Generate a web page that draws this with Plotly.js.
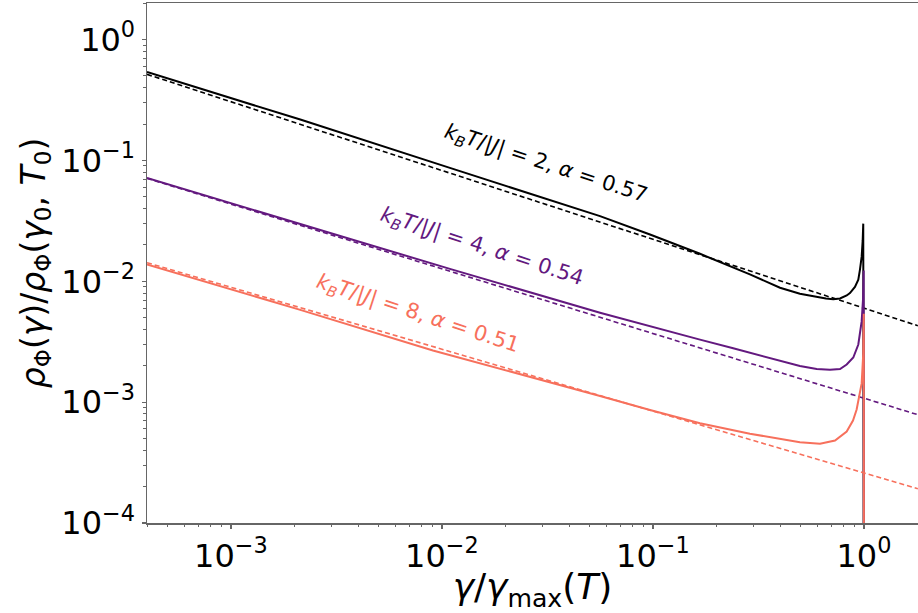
<!DOCTYPE html>
<html>
<head>
<meta charset="utf-8">
<script src="https://cdn.plot.ly/plotly-3.0.1.min.js"></script>
<style>html,body{margin:0;padding:0;background:#fff;}#chart{width:918px;height:613px;}</style>
</head>
<body>
<div id="chart"></div>
<script>
// ---- data ----
const xBlack = [4.0e-4, 2.13e-3, 1.09e-2, 0.0561, 0.0968, 0.167, 0.288, 0.400, 0.497, 0.535, 0.597, 0.660, 0.715, 0.770, 0.828, 0.858, 0.906, 0.940, 0.957, 0.975, 0.986, 0.992, 1.0];
const yBlack = [0.539, 0.218, 0.0868, 0.0346, 0.0244, 0.0169, 0.0114, 0.00885, 0.00789, 0.00770, 0.00738, 0.00720, 0.00712, 0.00722, 0.00764, 0.00800, 0.00900, 0.01030, 0.0125, 0.0160, 0.0218, 0.030, 1e-6];

const xPurple = [4.0e-4, 2.13e-3, 1.09e-2, 0.0561, 0.0968, 0.167, 0.240, 0.346, 0.400, 0.497, 0.597, 0.690, 0.770, 0.828, 0.890, 0.940, 0.975, 0.989, 0.9968, 1.0];
const yPurple = [0.0715, 0.0296, 0.01267, 0.00550, 0.00423, 0.00329, 0.00279, 0.00237, 0.00219, 0.00199, 0.00188, 0.00185, 0.00188, 0.00205, 0.00234, 0.00300, 0.00466, 0.00695, 0.0123, 1e-6];

const xSalmon = [4.0e-4, 2.13e-3, 0.00906, 0.02344, 0.0561, 0.0968, 0.167, 0.288, 0.400, 0.497, 0.619, 0.729, 0.828, 0.887, 0.923, 0.947, 0.975, 0.992, 0.9978, 1.0];
const ySalmon = [0.0138, 0.00580, 0.00268, 0.00171, 0.001125, 0.000861, 0.000670, 0.000548, 0.000496, 0.000466, 0.000453, 0.000482, 0.000572, 0.000705, 0.000870, 0.001074, 0.00143, 0.00253, 0.0054, 1e-6];

// power-law fits (dashed), endpoints
const xFit = [4.0e-4, 1.8];
const yFitBlack = [0.516, 0.00429];
const yFitPurple = [0.0711, 0.000787];
const yFitSalmon = [0.01426, 0.000192];

const labels = [
  {text: "<i>k</i><sub><i>B</i></sub><i>T</i>/|<i>J</i>| = 2, <i>α</i> = 0.57", x: 0.0311, y: 0.0940},
  {text: "<i>k</i><sub><i>B</i></sub><i>T</i>/|<i>J</i>| = 4, <i>α</i> = 0.54", x: 0.01548, y: 0.0193},
  {text: "<i>k</i><sub><i>B</i></sub><i>T</i>/|<i>J</i>| = 8, <i>α</i> = 0.51", x: 0.00769, y: 0.00540}
];
const xTickVals = [1e-3, 1e-2, 1e-1, 1];
const xTickText = ["10<sup>−3</sup>", "10<sup>−2</sup>", "10<sup>−1</sup>", "10<sup>0</sup>"];
const yTickVals = [1e-4, 1e-3, 1e-2, 1e-1, 1];
const yTickText = ["10<sup>−4</sup>", "10<sup>−3</sup>", "10<sup>−2</sup>", "10<sup>−1</sup>", "10<sup>0</sup>"];
const minorDigits = [2, 3, 4, 5, 6, 7, 8, 9];
const xDecades = [1e-4, 1e-3, 1e-2, 1e-1, 1];
const yDecades = [1e-4, 1e-3, 1e-2, 1e-1, 1];

// ---- styles ----
const cBlack = "#000000", cPurple = "#63197f", cSalmon = "#f7705c";
const FONT = "DejaVu Sans";

function solid(x, y, c){ return {x, y, mode: "lines", line: {color: c, width: 2}, hoverinfo: "skip", showlegend: false}; }
function dashed(x, y, c){ return {x, y, mode: "lines", line: {color: c, width: 1.6, dash: "5px,3px"}, hoverinfo: "skip", showlegend: false}; }

const traces = [
  solid(xBlack, yBlack, cBlack),
  dashed(xFit, yFitBlack, cBlack),
  solid(xPurple, yPurple, cPurple),
  dashed(xFit, yFitPurple, cPurple),
  solid(xSalmon, ySalmon, cSalmon),
  dashed(xFit, yFitSalmon, cSalmon)
];

const labelColors = [cBlack, cPurple, cSalmon];
const annotations = labels.map((l, i) => ({
  x: Math.log10(l.x), y: Math.log10(l.y), xref: "x", yref: "y",
  text: l.text, showarrow: false, textangle: 18,
  font: {family: FONT, size: 21, color: labelColors[i]}
}));

function minorVals(decades){
  const out = [];
  decades.forEach(d => minorDigits.forEach(m => out.push(d * m)));
  return out;
}

const axisCommon = {
  type: "log", showgrid: false, zeroline: false,
  showline: true, linecolor: "#666", linewidth: 1.5,
  ticks: "outside", ticklen: 4, tickwidth: 1.2, tickcolor: "#666",
  tickfont: {family: FONT, size: 32, color: "#000"}
};

const layout = {
  width: 918, height: 613,
  margin: {l: 147, r: 0, t: 3, b: 90},
  paper_bgcolor: "#fff", plot_bgcolor: "#fff",
  showlegend: false,
  xaxis: Object.assign({}, axisCommon, {
    range: [-3.398, 0.256], tickvals: xTickVals, ticktext: xTickText, mirror: true,
    minor: {tickmode: "array", tickvals: minorVals(xDecades), ticks: "outside", ticklen: 2.5, tickwidth: 1, tickcolor: "#666", showgrid: false},
    title: {text: "<i>γ</i>/<i>γ</i><sub>max</sub>(<i>T</i>)", font: {family: FONT, size: 36, color: "#000"}, standoff: 4}
  }),
  yaxis: Object.assign({}, axisCommon, {
    range: [-4, 0.303], tickvals: yTickVals, ticktext: yTickText,
    minor: {tickmode: "array", tickvals: minorVals(yDecades), ticks: "outside", ticklen: 2.5, tickwidth: 1, tickcolor: "#666", showgrid: false},
    title: {text: "<i>ρ</i><sub>Φ</sub>(<i>γ</i>)/<i>ρ</i><sub>Φ</sub>(<i>γ</i><sub>0</sub>, <i>T</i><sub>0</sub>)", font: {family: FONT, size: 33, color: "#000"}, standoff: 6}
  }),
  annotations: annotations
};

Plotly.newPlot("chart", traces, layout, {staticPlot: true, displayModeBar: false});
</script>
</body>
</html>
